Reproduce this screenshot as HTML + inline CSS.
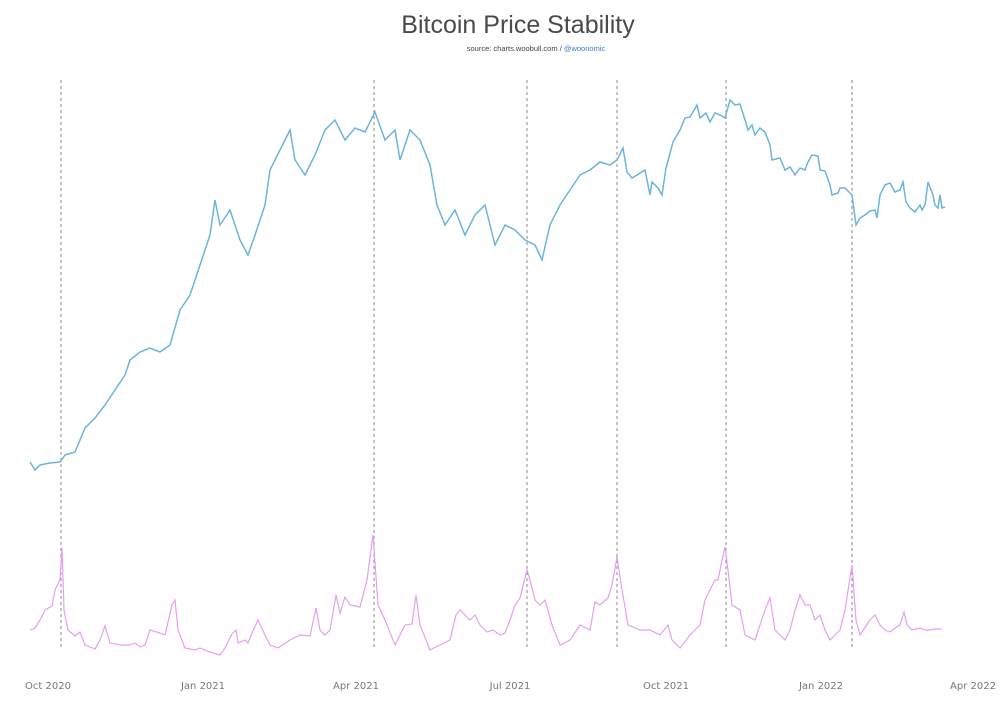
<!DOCTYPE html>
<html><head><meta charset="utf-8"><style>
body{margin:0;background:#fff;width:1008px;height:700px;overflow:hidden;font-family:"Liberation Sans",sans-serif}
</style></head><body>
<svg width="1008" height="700" xmlns="http://www.w3.org/2000/svg">
<text x="518" y="33" text-anchor="middle" font-size="25" fill="#4a4a4a" font-family="Liberation Sans,sans-serif">Bitcoin Price Stability</text>
<text x="536" y="51" text-anchor="middle" font-size="7.5" fill="#444" font-family="Liberation Sans,sans-serif">source: charts.woobull.com / <tspan fill="#3a7bd5">@woonomic</tspan></text>
<g stroke="#888" stroke-width="1" stroke-dasharray="3,3">
<line x1="61" y1="80" x2="61" y2="650"/><line x1="374" y1="80" x2="374" y2="650"/><line x1="527" y1="80" x2="527" y2="650"/><line x1="617" y1="80" x2="617" y2="650"/><line x1="726" y1="80" x2="726" y2="650"/><line x1="852" y1="80" x2="852" y2="650"/>
</g>
<polyline fill="none" stroke="#6bb5dc" stroke-width="1.5" points="30,462 35,470 40,465 50,463 60,462 65,455 75,452 80,440 85,428 95,418 105,405 115,390 125,375 130,360 140,352 150,348 160,352 170,345 180,310 190,295 200,265 210,235 215,200 220,225 230,210 240,240 248,255 255,235 265,205 270,170 280,150 290,130 295,160 305,175 315,155 325,130 335,120 345,140 355,128 365,132 375,112 385,140 395,130 400,160 410,130 420,140 430,165 437,205 445,225 455,210 465,235 475,215 485,205 495,245 505,225 515,230 525,240 535,245 542,260 550,225 560,205 570,190 580,175 590,170 600,162 610,165 617,160 623,148 627,172 632,178 637,175 645,170 650,195 652,182 658,188 662,195 666,168 673,142 680,130 685,118 690,117 697,105 700,118 706,113 710,122 715,113 720,115 725,118 730,100 735,105 740,104 745,120 748,130 752,125 755,135 760,128 765,132 770,145 772,160 780,158 785,170 790,167 795,175 800,168 805,170 808,162 812,155 818,156 820,170 825,171 830,185 832,195 838,193 840,188 845,188 852,195 856,225 860,218 865,215 870,211 875,210 877,218 880,195 885,185 890,183 895,192 900,190 903,182 906,202 910,208 915,212 920,205 922,210 925,205 928,182 933,195 935,205 938,208 940,195 942,208 945,207"/>
<polyline fill="none" stroke="#e59ff0" stroke-width="1.2" points="30,630 35,628 40,620 45,610 52,606 55,590 60,580 62,548 64,610 68,630 75,636 80,632 85,645 95,649 100,640 105,626 110,643 120,645 130,645 135,643 140,647 145,645 150,630 160,633 165,635 172,605 175,600 178,630 185,648 195,650 200,648 210,652 220,655 225,648 232,634 236,630 238,643 245,640 248,643 252,633 258,620 265,635 270,645 278,648 290,640 300,635 310,636 316,608 320,630 325,635 330,630 336,595 340,613 345,597 350,605 360,607 367,580 373,535 378,605 385,620 395,645 405,625 412,624 416,595 420,625 430,650 440,645 450,640 456,615 460,610 465,615 470,620 475,615 480,625 487,632 493,630 500,635 505,633 510,620 515,605 520,598 527,570 530,580 535,600 540,605 545,600 552,625 560,645 570,640 580,625 590,630 595,602 600,605 608,598 612,585 617,557 622,590 628,625 640,630 650,630 660,635 668,625 672,640 680,648 690,635 700,625 705,600 710,590 715,580 718,580 722,560 725,547 728,570 732,605 740,610 745,635 755,640 760,625 765,610 770,598 775,630 785,640 790,630 795,610 800,595 805,605 810,605 815,620 820,615 825,630 830,640 835,635 840,630 845,610 852,565 856,620 860,635 870,620 875,615 880,625 885,630 890,632 895,628 900,625 904,612 907,625 912,630 920,628 925,630 930,630 935,629 942,629"/>
<g font-size="10" fill="#777" text-anchor="middle" font-family="DejaVu Sans,sans-serif">
<text x="48" y="689">Oct 2020</text><text x="203" y="689">Jan 2021</text><text x="356" y="689">Apr 2021</text><text x="510" y="689">Jul 2021</text><text x="666" y="689">Oct 2021</text><text x="821" y="689">Jan 2022</text><text x="973" y="689">Apr 2022</text>
</g>
</svg>
</body></html>
